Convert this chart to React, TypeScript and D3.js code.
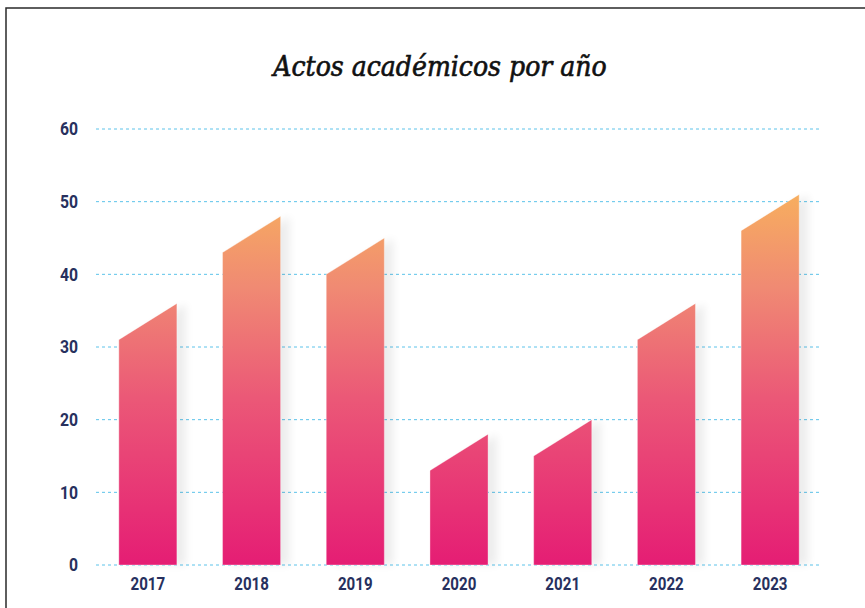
import React, { useEffect, useRef } from "react";
import * as d3 from "d3";

const years = ["2017", "2018", "2019", "2020", "2021", "2022", "2023"];
// value at the high (right) corner of each slanted bar
const values = [36, 48, 45, 18, 20, 36, 51];
const slant = 5; // the left corner sits this many units lower
const yTicks = [0, 10, 20, 30, 40, 50, 60];
const title = "Actos académicos por año";

const W = 865;
const H = 608;
const M = { left: 96, right: 43, top: 129, bottom: 43 };

export default function App() {
  const ref = useRef<SVGSVGElement | null>(null);

  useEffect(() => {
    const svg = d3.select(ref.current);
    svg.selectAll("*").remove();

    const x = d3
      .scaleBand<string>()
      .domain(years)
      .range([M.left, W - M.right])
      .paddingInner(0.44)
      .paddingOuter(0.22);
    const y = d3.scaleLinear().domain([0, 60]).range([H - M.bottom, M.top]);

    const defs = svg.append("defs");
    const grad = defs
      .append("linearGradient")
      .attr("id", "barGrad")
      .attr("gradientUnits", "userSpaceOnUse")
      .attr("x1", 0)
      .attr("x2", 0)
      .attr("y1", y(0))
      .attr("y2", y(51));
    grad.append("stop").attr("offset", "0%").attr("stop-color", "#e51d74");
    grad.append("stop").attr("offset", "45%").attr("stop-color", "#eb5877");
    grad.append("stop").attr("offset", "75%").attr("stop-color", "#f08a73");
    grad.append("stop").attr("offset", "100%").attr("stop-color", "#f7ae5f");

    const blur = defs
      .append("filter")
      .attr("id", "shadowBlur")
      .attr("x", "-50%")
      .attr("y", "-20%")
      .attr("width", "200%")
      .attr("height", "140%");
    blur.append("feGaussianBlur").attr("stdDeviation", 4);

    // frame
    svg
      .append("rect")
      .attr("x", 6)
      .attr("y", 8)
      .attr("width", W + 20)
      .attr("height", H + 20)
      .attr("fill", "none")
      .attr("stroke", "#2a2a2a")
      .attr("stroke-width", 1.5);

    // title
    svg
      .append("text")
      .attr("x", 440)
      .attr("y", 76)
      .attr("text-anchor", "middle")
      .attr("font-family", "'DejaVu Serif Condensed', 'DejaVu Serif', serif")
      .attr("font-stretch", "condensed")
      .attr("font-style", "italic")
      .attr("font-size", 28)
      .attr("fill", "#111")
      .attr("stroke", "#111")
      .attr("stroke-width", 0.6)
      .text(title);

    // grid
    svg
      .append("g")
      .selectAll("line")
      .data(yTicks)
      .join("line")
      .attr("x1", M.left)
      .attr("x2", W - M.right)
      .attr("y1", (d) => y(d))
      .attr("y2", (d) => y(d))
      .attr("stroke", "#5cc3ea")
      .attr("stroke-width", 1)
      .attr("stroke-dasharray", "3,3");

    // y labels
    svg
      .append("g")
      .selectAll("text")
      .data(yTicks)
      .join("text")
      .attr("transform", (d) => `translate(78,${y(d) + 6.3}) scale(0.9,1)`)
      .attr("text-anchor", "end")
      .attr("font-family", "Roboto, sans-serif")
      .attr("font-weight", 700)
      .attr("font-size", 17.5)
      .attr("fill", "#27305e")
      .text((d) => String(d));

    const bw = x.bandwidth();
    const barPath = (d: number, i: number, dx = 0) => {
      const x0 = (x(years[i]) as number) + dx;
      const x1 = x0 + bw;
      const p = d3.path();
      p.moveTo(x0, y(0));
      p.lineTo(x0, y(d - slant));
      p.lineTo(x1, y(d));
      p.lineTo(x1, y(0));
      p.closePath();
      return p.toString();
    };

    // shadows
    svg
      .append("g")
      .selectAll("path")
      .data(values)
      .join("path")
      .attr("d", (d, i) => barPath(d, i, 9))
      .attr("fill", "#000")
      .attr("opacity", 0.07)
      .attr("filter", "url(#shadowBlur)");

    // bars
    svg
      .append("g")
      .selectAll("path")
      .data(values)
      .join("path")
      .attr("d", (d, i) => barPath(d, i))
      .attr("fill", "url(#barGrad)")
      .attr("stroke", "rgba(255,255,255,0.35)")
      .attr("stroke-width", 1);

    // x labels
    svg
      .append("g")
      .selectAll("text")
      .data(years)
      .join("text")
      .attr(
        "transform",
        (d) => `translate(${(x(d) as number) + bw / 2},590) scale(0.84,1)`
      )
      .attr("text-anchor", "middle")
      .attr("font-family", "Roboto, sans-serif")
      .attr("font-weight", 700)
      .attr("font-size", 18)
      .attr("fill", "#27305e")
      .text((d) => d);
  }, []);

  return (
    <svg
      ref={ref}
      width={W}
      height={H}
      style={{ position: "absolute", left: 0, top: 0, background: "#fff" }}
    />
  );
}
